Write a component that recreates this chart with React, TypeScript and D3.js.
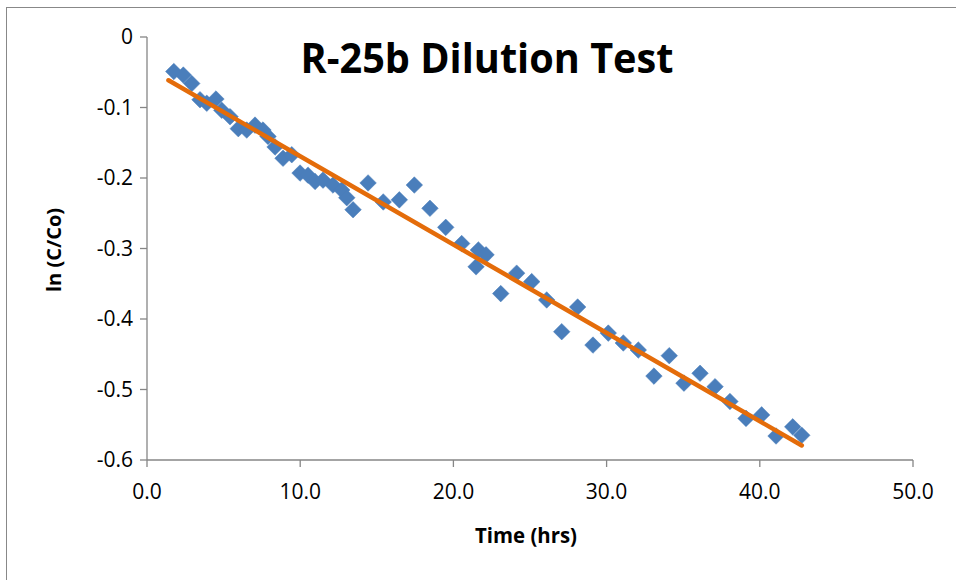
import React from "react";
import * as d3 from "d3";

const TITLE = "R-25b Dilution Test";
const X_LABEL = "Time (hrs)";
const Y_LABEL = "ln (C/Co)";

const timeHrs = [
  1.75, 2.37, 2.92, 3.46, 3.9, 4.5, 4.88, 5.42, 5.96, 6.51, 7.05, 7.57, 7.9, 8.36,
  8.88, 9.45, 9.99, 10.51, 10.97, 11.49, 12.14, 12.71, 13.04, 13.45, 14.43, 15.42,
  16.47, 17.45, 18.47, 19.5, 20.54, 21.63, 22.13, 21.48, 23.09, 24.13, 25.11, 26.09,
  27.07, 28.11, 29.11, 30.11, 31.09, 32.07, 33.09, 34.09, 35.05, 36.1, 37.08, 38.05,
  39.1, 40.12, 41.06, 42.15, 42.74,
];
const lnRatio = [
  -0.049, -0.054, -0.066, -0.089, -0.094, -0.088, -0.104, -0.113, -0.13, -0.132,
  -0.125, -0.132, -0.141, -0.156, -0.172, -0.167, -0.193, -0.196, -0.205, -0.203,
  -0.21, -0.217, -0.228, -0.245, -0.207, -0.234, -0.231, -0.21, -0.243, -0.27,
  -0.293, -0.302, -0.309, -0.326, -0.364, -0.335, -0.347, -0.373, -0.418, -0.383,
  -0.437, -0.42, -0.434, -0.444, -0.481, -0.452, -0.491, -0.477, -0.496, -0.517,
  -0.541, -0.536, -0.566, -0.553, -0.565,
];

const TREND_SLOPE = -0.01253;
const TREND_INTERCEPT = -0.0438;
const TREND_X = [1.4, 42.74];

const xTicks = [0, 10, 20, 30, 40, 50];
const yTicks = [0, -0.1, -0.2, -0.3, -0.4, -0.5, -0.6];

const fmt1 = (v: number) => d3.format(".1f")(v).replace("\u2212", "-");

export default function App() {
  const W = 956;
  const H = 580;
  const left = 147;
  const right = 913;
  const top = 37;
  const bottom = 460;

  const x = d3.scaleLinear().domain([0, 50]).range([left, right]);
  const y = d3.scaleLinear().domain([-0.6, 0]).range([bottom, top]);

  const points = timeHrs.map((t, i) => ({ t, v: lnRatio[i] }));
  const trendPts = TREND_X.map((t) => [t, TREND_INTERCEPT + TREND_SLOPE * t] as [number, number]);
  const line = d3
    .line<[number, number]>()
    .x((d) => x(d[0]))
    .y((d) => y(d[1]));

  const diamond = d3.symbol().type(d3.symbolDiamond2).size(175)();
  const axisColor = "#868686";
  const font = "'Open Sans', 'Noto Sans', sans-serif";

  return (
    <svg
      width={W}
      height={H}
      style={{ position: "absolute", left: 0, top: 0, background: "#fff" }}
    >
      <rect x={6.5} y={7.5} width={1000} height={700} fill="#fff" stroke="#888" strokeWidth={1} />
      {/* axes */}
      <line x1={x(0)} x2={x(50)} y1={y(-0.6)} y2={y(-0.6)} stroke={axisColor} strokeWidth={1.3} />
      <line x1={x(0)} x2={x(0)} y1={y(0)} y2={y(-0.6)} stroke={axisColor} strokeWidth={1.3} />
      {xTicks.map((t) => (
        <g key={"x" + t}>
          <line x1={x(t)} x2={x(t)} y1={bottom} y2={bottom + 7} stroke={axisColor} strokeWidth={1.3} />
          <text
            x={x(t)}
            y={bottom + 39}
            textAnchor="middle"
            fontFamily={font}
            fontSize={21}
            fill="#000"
          >
            {fmt1(t)}
          </text>
        </g>
      ))}
      {yTicks.map((t) => (
        <g key={"y" + t}>
          <line x1={left - 7} x2={left} y1={y(t)} y2={y(t)} stroke={axisColor} strokeWidth={1.3} />
          <text
            x={left - 14}
            y={y(t)}
            dy="0.35em"
            textAnchor="end"
            fontFamily={font}
            fontSize={21}
            fill="#000"
          >
            {t === 0 ? "0" : fmt1(t)}
          </text>
        </g>
      ))}
      {/* points */}
      {points.map((p, i) => (
        <path
          key={i}
          d={diamond}
          transform={`translate(${x(p.t)},${y(p.v)})`}
          fill="#4A7EBB"
          stroke="#4A7EBB"
          strokeWidth={0.5}
        />
      ))}
      {/* trendline */}
      <path
        d={line(trendPts) || ""}
        fill="none"
        stroke="#E46C0A"
        strokeWidth={4.5}
        strokeLinecap="round"
      />
      {/* titles */}
      <text
        x={487}
        y={73}
        textAnchor="middle"
        fontFamily={font}
        fontWeight="bold"
        fontSize={42}
        textLength={373}
        lengthAdjust="spacingAndGlyphs"
        fill="#000"
      >
        {TITLE}
      </text>
      <text
        x={526}
        y={543}
        textAnchor="middle"
        fontFamily={font}
        fontWeight="bold"
        fontSize={21}
        textLength={102}
        lengthAdjust="spacingAndGlyphs"
        fill="#000"
      >
        {X_LABEL}
      </text>
      <text
        transform={`translate(61,250) rotate(-90)`}
        textAnchor="middle"
        fontFamily={font}
        fontWeight="bold"
        fontSize={20}
        fill="#000"
      >
        {Y_LABEL}
      </text>
    </svg>
  );
}
